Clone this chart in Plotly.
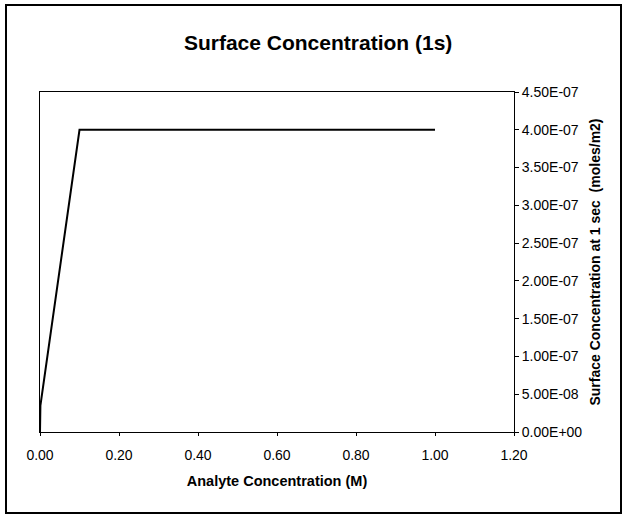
import plotly.graph_objects as go

# Data
analyte_conc = [0.0, 0.001, 0.1, 0.2, 0.3, 0.4, 0.5, 0.6, 0.7, 0.8, 0.9, 1.0]
surface_conc = [0.0, 3.5e-8, 4.0e-7, 4.0e-7, 4.0e-7, 4.0e-7, 4.0e-7, 4.0e-7, 4.0e-7, 4.0e-7, 4.0e-7, 4.0e-7]

x_ticks = [0.0, 0.2, 0.4, 0.6, 0.8, 1.0, 1.2]
y_ticks = [0.0, 5e-8, 1e-7, 1.5e-7, 2e-7, 2.5e-7, 3e-7, 3.5e-7, 4e-7, 4.5e-7]
y_tick_text = [f"{v:.2E}" for v in y_ticks]

FONT = "Liberation Sans, Arial, sans-serif"

fig = go.Figure()
fig.add_trace(go.Scatter(
    x=analyte_conc, y=surface_conc, mode="lines",
    line=dict(color="black", width=2), showlegend=False, cliponaxis=False,
))

fig.update_layout(
    width=625, height=516,
    margin=dict(l=40, r=111, t=92, b=84),
    paper_bgcolor="white", plot_bgcolor="white",
    font=dict(family=FONT, color="black", size=12),
    title=dict(text="<b>Surface Concentration (1s)</b>", x=0.509, xanchor="center",
               y=1 - 43 / 516, yanchor="middle", font=dict(size=21)),
    xaxis=dict(
        range=[0, 1.2], tickvals=x_ticks, tickformat=".2f",
        showline=True, linecolor="black", linewidth=1, mirror=True,
        ticks="outside", ticklen=3, tickcolor="black",
        showgrid=False, zeroline=False,
        tickfont=dict(size=14), ticklabelstandoff=7,
        title=dict(text="<b>Analyte Concentration (M)</b>", font=dict(size=14.5), standoff=14),
    ),
    yaxis=dict(
        range=[0, 4.5e-7], side="right", tickvals=y_ticks, ticktext=y_tick_text,
        showline=True, linecolor="black", linewidth=1, mirror=True,
        ticks="outside", ticklen=4, tickcolor="black",
        showgrid=False, zeroline=False,
        tickfont=dict(size=14),
        title=dict(text="<b>Surface Concentration at 1 sec  (moles/m2)</b>", font=dict(size=14), standoff=8),
    ),
    shapes=[dict(
        type="rect", xref="paper", yref="paper",
        x0=(6 - 40) / 474, x1=(621 - 40) / 474,
        y0=(432 - 513) / 340, y1=(432 - 5) / 340,
        line=dict(color="black", width=2), fillcolor="rgba(0,0,0,0)", layer="above",
    )],
)

fig.write_html("out.html", config={"displayModeBar": False},
               post_script="document.body.style.margin='0';document.body.style.overflow='hidden';")
